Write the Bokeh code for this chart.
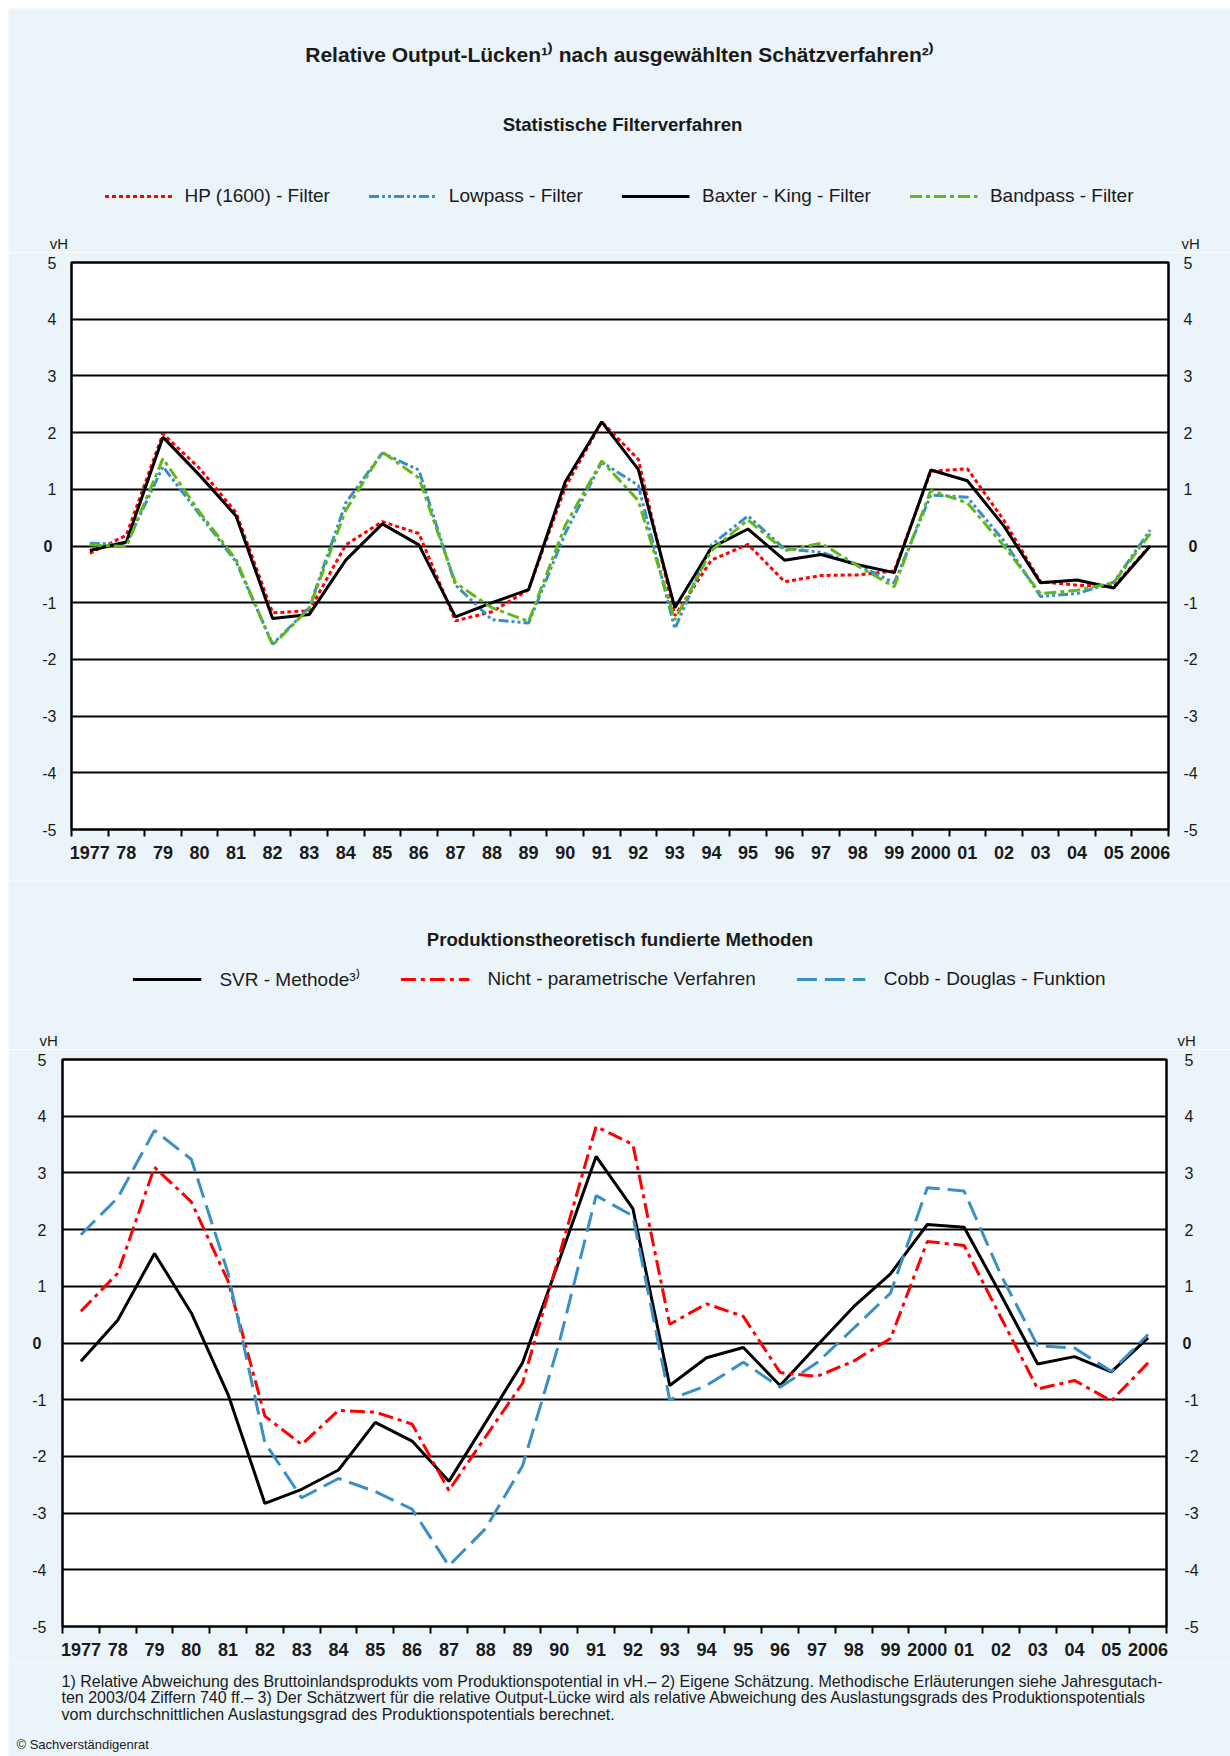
from bokeh.plotting import figure
from bokeh.models import (Range1d, LinearAxis, FixedTicker, Label, Legend, LegendItem,
                          ColumnDataSource, Grid, Spacer)
from bokeh.layouts import column, row
from bokeh.embed import file_html
from bokeh.resources import INLINE

# ---------------- data ----------------
years = ["1977", "78", "79", "80", "81", "82", "83", "84", "85", "86", "87", "88", "89",
         "90", "91", "92", "93", "94", "95", "96", "97", "98", "99", "2000", "01", "02",
         "03", "04", "05", "2006"]

# Statistische Filterverfahren
hp_filter = [-0.13, 0.19, 1.98, 1.37, 0.59, -1.18, -1.14, 0.02, 0.43, 0.22, -1.32, -1.16,
             -0.77, 1.03, 2.19, 1.53, -1.23, -0.25, 0.03, -0.63, -0.52, -0.51, -0.44, 1.32,
             1.36, 0.45, -0.63, -0.69, -0.72, 0.01]
lowpass_filter = [0.05, 0.03, 1.40, 0.56, -0.28, -1.73, -1.09, 0.76, 1.64, 1.34, -0.69,
                  -1.30, -1.36, 0.22, 1.48, 1.07, -1.46, 0.02, 0.53, -0.05, -0.11, -0.33,
                  -0.65, 0.90, 0.86, 0.09, -0.89, -0.84, -0.64, 0.28]
baxter_king = [-0.08, 0.07, 1.92, 1.25, 0.53, -1.28, -1.21, -0.25, 0.39, 0.02, -1.25, -1.00,
               -0.77, 1.13, 2.19, 1.35, -1.09, -0.03, 0.30, -0.25, -0.15, -0.33, -0.47, 1.34,
               1.15, 0.35, -0.65, -0.60, -0.74, 0.00]
bandpass_filter = [0.02, -0.01, 1.54, 0.60, -0.24, -1.75, -1.10, 0.63, 1.66, 1.20, -0.65,
                   -1.09, -1.33, 0.36, 1.50, 0.80, -1.30, -0.08, 0.46, -0.08, 0.05, -0.35,
                   -0.72, 0.98, 0.76, 0.00, -0.84, -0.78, -0.65, 0.22]

# Produktionstheoretisch fundierte Methoden
svr_methode = [-0.32, 0.40, 1.58, 0.53, -0.91, -2.83, -2.58, -2.24, -1.40, -1.73, -2.44,
               -1.40, -0.35, 1.46, 3.29, 2.37, -0.75, -0.26, -0.08, -0.75, -0.05, 0.64, 1.22,
               2.09, 2.04, 0.85, -0.37, -0.24, -0.51, 0.09]
nicht_parametrisch = [0.56, 1.23, 3.10, 2.49, 1.09, -1.29, -1.79, -1.19, -1.22, -1.43, -2.60,
                      -1.65, -0.71, 1.55, 3.82, 3.50, 0.33, 0.69, 0.47, -0.52, -0.59, -0.32,
                      0.08, 1.79, 1.72, 0.45, -0.81, -0.66, -1.02, -0.35]
cobb_douglas = [1.91, 2.56, 3.75, 3.24, 1.23, -1.76, -2.73, -2.39, -2.62, -2.93, -3.93, -3.27,
                -2.17, 0.01, 2.60, 2.24, -1.00, -0.75, -0.34, -0.78, -0.35, 0.26, 0.88, 2.74,
                2.68, 1.20, -0.05, -0.09, -0.50, 0.15]

y_ticks = [-5, -4, -3, -2, -1, 1, 2, 3, 4, 5]
zero_tick = [0]
grid_ticks = [-4, -3, -2, -1, 0, 1, 2, 3, 4]

title_text = "Relative Output-Lücken¹⁾ nach ausgewählten Schätzverfahren²⁾"
sub1_text = "Statistische Filterverfahren"
sub2_text = "Produktionstheoretisch fundierte Methoden"
legend1 = ["HP (1600) - Filter", "Lowpass - Filter", "Baxter - King - Filter", "Bandpass - Filter"]
legend2 = ["SVR - Methode³⁾", "Nicht - parametrische Verfahren", "Cobb - Douglas - Funktion"]
footnotes = [
    "1) Relative Abweichung des Bruttoinlandsprodukts vom Produktionspotential in vH.– 2) Eigene Schätzung. Methodische Erläuterungen siehe Jahresgutach-",
    "ten 2003/04 Ziffern 740 ff.– 3) Der Schätzwert für die relative Output-Lücke wird als relative Abweichung des Auslastungsgrads des Produktionspotentials",
    "vom durchschnittlichen Auslastungsgrad des Produktionspotentials berechnet.",
]
copyright_text = "© Sachverständigenrat"

# ---------------- style ----------------
BG = "#EBF4F8"
RED = "#FF0000"
BLUE = "#3A90C4"
GREEN = "#62B81A"
FONT = "Liberation Sans"
TXT = "#1a1a1a"
W = 1222

n = len(years)
x_pos = [i + 0.5 for i in range(n)]
bounds = list(range(n + 1))
src = ColumnDataSource(dict(x=x_pos, hp=hp_filter, lp=lowpass_filter, bk=baxter_king,
                            bp=bandpass_filter, svr=svr_methode, npv=nicht_parametrisch,
                            cd=cobb_douglas))

STYLES = {
    "hp": dict(line_color=RED, line_width=3, line_dash="4 3"),
    "lp": dict(line_color=BLUE, line_width=3, line_dash="10 3 3 3 3 3"),
    "bk": dict(line_color="black", line_width=3),
    "bp": dict(line_color=GREEN, line_width=3, line_dash="12 4 4 4"),
    "svr": dict(line_color="black", line_width=3),
    "npv": dict(line_color=RED, line_width=3, line_dash="15 5 4 5"),
    "cd": dict(line_color=BLUE, line_width=3, line_dash="20 8"),
}


def text_fig(height):
    f = figure(width=W, height=height, x_range=Range1d(0, W), y_range=Range1d(height, 0),
               x_axis_type=None, y_axis_type=None, output_backend="svg",
               toolbar_location=None, min_border=0, outline_line_color=None,
               background_fill_color=BG, border_fill_color=BG)
    f.frame_align = False
    return f


def lab(f, x, y, text, size, bold=False, align="center"):
    f.add_layout(Label(x=x, y=y, text=text, text_align=align, text_baseline="middle",
                       text_font=FONT, text_font_size=size,
                       text_font_style="bold" if bold else "normal", text_color=TXT))


def y_axis(ticks, standoff, bold):
    return LinearAxis(ticker=FixedTicker(ticks=ticks), axis_line_color=None,
                      major_tick_line_color=None, minor_tick_line_color=None,
                      major_tick_out=0, major_tick_in=0, major_label_standoff=standoff,
                      major_label_overrides={t: str(t) for t in ticks},
                      major_label_text_font=FONT, major_label_text_font_size="16px",
                      major_label_text_font_style="bold" if bold else "normal",
                      major_label_text_color=TXT)


def plot_fig(height, left, right, top, bottom, stand):
    p = figure(width=W, height=height, x_range=Range1d(0, n), y_range=Range1d(-5, 5),
               x_axis_type=None, y_axis_type=None, output_backend="svg",
               toolbar_location=None, min_border_left=left, min_border_right=right,
               min_border_top=top, min_border_bottom=bottom, border_fill_color=BG,
               background_fill_color="white", outline_line_color="black",
               outline_line_width=2.5)
    p.frame_align = False
    p.add_layout(Grid(dimension=1, ticker=FixedTicker(ticks=grid_ticks),
                      grid_line_color="black", grid_line_width=2))
    xa = LinearAxis(ticker=FixedTicker(ticks=x_pos, minor_ticks=bounds),
                    major_label_overrides={x: y for x, y in zip(x_pos, years)},
                    axis_line_color=None, major_tick_line_color=None,
                    major_tick_out=0, major_tick_in=0,
                    minor_tick_line_color="black", minor_tick_line_width=2,
                    minor_tick_out=7, minor_tick_in=0, major_label_standoff=9,
                    major_label_text_font=FONT, major_label_text_font_size="18px",
                    major_label_text_font_style="bold", major_label_text_color=TXT)
    p.add_layout(xa, "below")
    # inner axes: all values except 0; outer axes: the bold zero (pulled back inwards)
    (ls, lz), (rs, rz) = stand
    p.add_layout(y_axis(y_ticks, ls, False), "left")
    p.add_layout(y_axis(zero_tick, lz, True), "left")
    p.add_layout(y_axis(y_ticks, rs, False), "right")
    p.add_layout(y_axis(zero_tick, rz, True), "right")
    return p


def legend_for(f, keys, labels, margin, gw, standoff, spacing):
    items = []
    for k, t in zip(keys, labels):
        r = f.line(x=[float("nan")], y=[float("nan")], **STYLES[k])
        items.append(LegendItem(label=t, renderers=[r]))
    f.add_layout(Legend(items=items, orientation="horizontal", location="bottom_center",
                        margin=margin, glyph_width=gw, glyph_height=22, label_height=22,
                        label_standoff=standoff, spacing=spacing, padding=0,
                        border_line_color=None, background_fill_alpha=0,
                        label_text_font=FONT, label_text_font_size="19px",
                        label_text_color=TXT))


# ============ header 1 (page y 8-252) ============
h1 = text_fig(244)
lab(h1, 611, 46, title_text, "21px", bold=True)
lab(h1, 614, 116, sub1_text, "18.6px", bold=True)
legend_for(h1, ["hp", "lp", "bk", "bp"], legend1, 45, 68, 12, 39)
lab(h1, 41.3, 235.3, "vH", "15px", align="left")
lab(h1, 1173, 235.3, "vH", "15px", align="left")

# ============ plot 1 (page y 252-880) ============
p1 = plot_fig(628, 63, 62, 10, 51, ((15, -13), (15, -12)))
for k in ["hp", "lp", "bk", "bp"]:
    p1.line("x", k, source=src, **STYLES[k])

# ============ header 2 (page y 880-1049) ============
h2 = text_fig(169)
lab(h2, 611.5, 59.3, sub2_text, "18.6px", bold=True)
legend_for(h2, ["svr", "npv", "cd"], legend2, 57, 69, 18, 41)
lab(h2, 31, 160, "vH", "15px", align="left")
lab(h2, 1169, 160, "vH", "15px", align="left")

# ============ plot 2 (page y 1049-1662) ============
p2 = plot_fig(613, 54, 64, 10, 36, ((16, -12), (18, -19)))
for k in ["svr", "npv", "cd"]:
    p2.line("x", k, source=src, **STYLES[k])

# ============ footer (page y 1662-1756) ============
ft = text_fig(94)
for txt, py in zip(footnotes, [18.5, 35, 51.5]):
    lab(ft, 53, py, txt, "16px", align="left")
lab(ft, 8, 82, copyright_text, "13px", align="left")

charts = column(h1, p1, h2, p2, ft, spacing=0)
layout = column(Spacer(width=1230, height=8),
                row(Spacer(width=8, height=1748), charts, spacing=0), spacing=0)
open("out.html", "w").write(file_html(layout, INLINE))
